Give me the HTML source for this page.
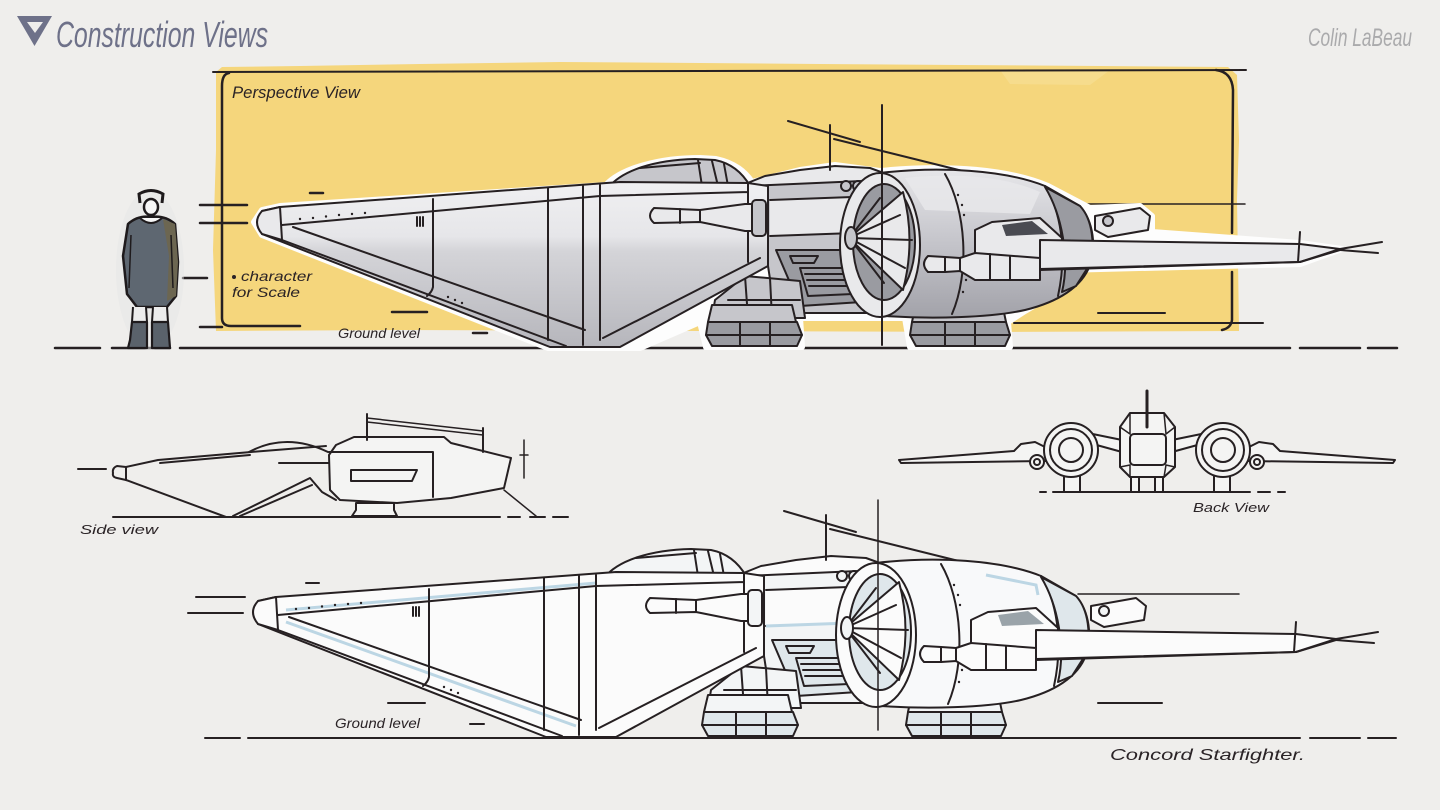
<!DOCTYPE html>
<html><head><meta charset="utf-8"><style>
html,body{margin:0;padding:0;background:#efeeec;}
svg{display:block;}
.s{stroke:#262022;stroke-width:2;stroke-linejoin:round;stroke-linecap:round;}
.n{fill:none;}
.t .f1{fill:#e9e9eb}.t .f2{fill:#c6c6cb}.t .f3{fill:#9a9ba1}.t .f4{fill:#4a4b52}.t .fw{fill:url(#gw)}.t .fp{fill:url(#gp)}
.b .f1{fill:#fbfbfb}.b .f2{fill:#f3f5f6}.b .f3{fill:#dfe7eb}.b .f4{fill:#9aa3a9}.b .fw{fill:#fbfbfb}.b .fp{fill:#f8f9fa}
.halo{fill:#fdfdfd;stroke:#fdfdfd;stroke-width:6;stroke-linejoin:round}
.b .halo{display:none}
.lbl{font-family:"Liberation Sans",sans-serif;font-style:italic;fill:#2a2326;}
</style></head><body>
<svg width="1440" height="810" viewBox="0 0 1440 810" xmlns="http://www.w3.org/2000/svg">
<defs>
<linearGradient id="gw" gradientUnits="userSpaceOnUse" x1="0" y1="182" x2="0" y2="347">
<stop offset="0" stop-color="#f0f0f2"/><stop offset="0.33" stop-color="#e6e6e9"/><stop offset="0.42" stop-color="#d4d4d8"/><stop offset="1" stop-color="#b6b6bc"/>
</linearGradient>
<linearGradient id="gp" gradientUnits="userSpaceOnUse" x1="0" y1="170" x2="0" y2="318">
<stop offset="0" stop-color="#e6e6e9"/><stop offset="0.5" stop-color="#c4c4ca"/><stop offset="1" stop-color="#a2a2a9"/>
</linearGradient>
</defs>
<rect width="1440" height="810" fill="#efeeec"/>

<!-- title -->
<polygon points="17,16 52,16 34.5,46" fill="#6e7189"/>
<polygon points="27,22 43,22 35,33" fill="#efeeec"/>
<text x="56" y="47" font-family="'Liberation Sans Narrow','Liberation Sans',sans-serif" font-style="italic" font-size="36" fill="#6e7189" textLength="212" lengthAdjust="spacingAndGlyphs">Construction Views</text>
<text x="1308" y="46" font-family="'Liberation Sans Narrow','Liberation Sans',sans-serif" font-style="italic" font-size="25" fill="#aaaaac" textLength="104" lengthAdjust="spacingAndGlyphs">Colin LaBeau</text>

<!-- yellow panel -->
<path d="M216,72 L222,67 L300,66 L420,64 L560,62 L700,63 L820,64 L960,65 L1100,66 L1228,67 L1237,75 L1239,140 L1237,200 L1238,260 L1239,331 L1000,332 L700,331 L400,330 L216,331 L213,250 L216,150 Z" fill="#f5d67c"/>
<path d="M1000,70 L1110,70 L1090,85 L1010,84 Z" fill="#f7de94" opacity="0.7"/>

<!-- frame -->
<g class="s n" stroke-width="2">
<path d="M213,72 L1246,70"/>
<path d="M229,73 Q222,74 222,86 L222,318 Q222,326 231,326 L300,326" stroke-width="2.5"/>
<path d="M1216,70 Q1232,72 1233,90 L1232,233 M1232,272 L1232,320 Q1231,328 1222,330" stroke-width="2.5"/>
<path d="M1077,204 L1245,204" stroke-width="1.5"/>
<path d="M1098,313 L1165,313" stroke-width="2"/>
<path d="M1014,323 L1263,323" stroke-width="2"/>
<path d="M200,205 L247,205 M200,223 L247,223 M183,278 L207,278 M200,327 L222,327" stroke-width="2.5"/>
<path d="M310,193 L323,193 M392,312 L427,312 M473,333 L487,333" stroke-width="2.5"/>
<path d="M55,348 L100,348 M112,348 L170,348 M180,348 L1290,348 M1300,348 L1360,348 M1368,348 L1397,348" stroke-width="2.5"/>
</g>

<!-- character -->
<g>
<ellipse cx="150" cy="270" rx="34" ry="80" fill="#e6e6e6" opacity="0.5"/>
<path d="M140,203 L139,194 Q151,187 163,194 L162,203" fill="none" stroke="#1e1a1c" stroke-width="3"/>
<path d="M128,224 Q138,215 151,217 Q165,215 175,224 L178,262 L176,296 L167,307 L137,307 L127,294 L123,256 Z" fill="#5e6771" stroke="#1e1a1c" stroke-width="2.5" stroke-linejoin="round"/>
<path d="M163,219 L175,224 L178,262 L176,296 L167,301 L169,256 Z" fill="#6c6651"/>
<path d="M133,307 L146,307 L146,322 L133,322 Z M153,307 L167,307 L167,322 L153,322 Z" fill="#ececec"/>
<path d="M132,322 L147,322 L147,348 L128,348 L130,340 Z M152,322 L168,322 L170,348 L152,348 Z" fill="#5a626b" stroke="#1e1a1c" stroke-width="2.2" stroke-linejoin="round"/>
<path d="M133,307 L132,322 M146,307 L147,322 M153,307 L152,322 M167,307 L168,322" stroke="#1e1a1c" stroke-width="2" fill="none"/>
<path d="M131,235 L129,288 M171,235 L173,288" stroke="#1e1a1c" stroke-width="1.5" fill="none"/>
<ellipse cx="151" cy="207" rx="7" ry="8" fill="#f6f6f6" stroke="#1e1a1c" stroke-width="2.5"/>
<path d="M140,218 Q151,228 162,218" fill="#f6f6f6" stroke="#1e1a1c" stroke-width="2"/>
</g>

<!-- labels top -->
<text class="lbl" x="232" y="98" font-size="17" textLength="128" lengthAdjust="spacingAndGlyphs">Perspective View</text>
<circle cx="234" cy="277" r="2" fill="#2a2326"/>
<text class="lbl" x="241" y="281" font-size="14" textLength="71" lengthAdjust="spacingAndGlyphs">character</text>
<text class="lbl" x="232" y="297" font-size="14" textLength="68" lengthAdjust="spacingAndGlyphs">for Scale</text>
<text class="lbl" x="338" y="338" font-size="14" textLength="82" lengthAdjust="spacingAndGlyphs">Ground level</text>

<!-- ===== TOP SHIP ===== -->
<g class="t">
<path class="halo" d="M254,222 L262,210 L280,206 L606,185 C622,168 660,158 700,158 L716,159 C735,163 745,172 752,182 L800,170 L835,165 L880,171 C950,164 1010,170 1048,186 L1090,208 L1140,206 L1152,216 L1152,232 L1300,243 L1342,249 L1300,264 L1062,270 L1050,296 L1025,311 L1008,322 L1010,347 L910,347 L905,318 L800,318 L802,347 L706,347 L700,322 L640,348 L548,348 L262,235 Z"/>
<path class="f2 s" d="M608,188 C622,170 655,160 695,159 L715,160 C730,163 742,172 750,186 Z"/>
<path class="s n" stroke-width="1.5" d="M640,168 L700,163 M698,160 L702,186 M712,161 L718,186 M724,164 L728,186"/>
<path class="f1 s" d="M745,184 L765,176 L800,170 L835,166 L870,168 L892,176 L885,205 L760,205 Z"/>
<path class="f2 s" d="M748,186 L885,180 L892,300 L870,313 L790,313 L772,292 L768,266 Z"/>
<path class="f1" d="M770,200 L880,196 L882,232 L770,236 Z"/>
<path class="s n" stroke-width="1.5" d="M770,236 L882,232 M770,200 L880,196"/>
<path class="f3 s" d="M776,250 L842,250 L862,302 L800,306 Z"/>
<path class="s n" stroke-width="1.5" d="M800,268 L845,268 L853,294 L808,296 Z M805,274 L847,274 M807,280 L849,280 M809,286 L851,286 M790,256 L818,256 L814,263 L793,263 Z"/>
<circle class="f2 s" cx="846" cy="186" r="5"/><circle class="f2 s" cx="858" cy="186" r="5"/><circle class="f2 s" cx="870" cy="187" r="5"/>
<path class="f2 s" d="M715,300 L745,276 L800,281 L805,318 L712,318 Z"/>
<path class="s n" stroke-width="1.2" d="M745,276 L748,318 M770,278 L772,318 M728,300 L800,300"/>
<path class="f2 s" d="M712,305 L792,305 L796,322 L708,322 Z"/>
<path class="f3 s" d="M708,322 L797,322 L802,335 L797,346 L712,346 L706,335 Z"/>
<path class="s n" stroke-width="1.2" d="M740,322 L740,346 M770,322 L770,346 M706,335 L802,335"/>
<path class="f2 s" d="M916,303 L1002,303 L1006,322 L912,322 Z"/>
<path class="f3 s" d="M912,322 L1006,322 L1010,335 L1005,346 L916,346 L910,335 Z"/>
<path class="s n" stroke-width="1.2" d="M945,322 L945,346 M975,322 L975,346 M910,335 L1010,335"/>
<!-- wedge -->
<path class="fw s" stroke-width="2.5" d="M257,222 L262,211 L280,207 L620,182 L748,183 L768,186 L768,266 L620,347 L550,347 L262,234 Z"/>
<path class="f1 s" d="M262,211 Q252,222 262,234 L282,240 L280,207 Z"/>
<path class="s n" stroke-width="2" d="M282,225 L600,196 L748,192 M293,227 L585,330 M282,240 L566,346 M583,186 L583,345 M600,185 L600,340 M748,184 L748,262 M760,258 L603,338"/>
<path class="s n" stroke-width="1.2" d="M433,199 L433,287 Q432,292 427,296 M548,188 L548,340 M417,217 L417,226 M420,217 L420,226 M423,217 L423,226"/>
<g fill="#262022"><circle cx="300" cy="219" r="1.2"/><circle cx="313" cy="218" r="1.2"/><circle cx="326" cy="216.5" r="1.2"/><circle cx="339" cy="215" r="1.2"/><circle cx="352" cy="214" r="1.2"/><circle cx="365" cy="213" r="1.2"/><circle cx="448" cy="297" r="1.2"/><circle cx="455" cy="300" r="1.2"/><circle cx="462" cy="303" r="1.2"/></g>
<!-- left gun -->
<path class="f1 s" d="M654,208 L700,210 L745,204 L752,204 L752,231 L745,231 L700,222 L654,223 Q646,216 654,208 Z"/>
<rect class="f2 s" x="752" y="200" width="14" height="36" rx="4"/>
<path class="s n" stroke-width="1.2" d="M680,209 L680,223 M700,210 L700,222"/>
<!-- antenna -->
<path class="s n" stroke-width="4" d="M830,125 L830,170"/>
<path class="s n" stroke-width="3" d="M834,139 L1003,181"/>
<path class="s n" stroke-width="0.8" d="M788,121 L860,142"/>
<!-- pod -->
<path class="fp s" stroke-width="2.5" d="M880,173 C940,166 1005,170 1045,186 L1080,206 C1094,222 1096,248 1090,265 C1082,287 1058,302 1025,310 C990,318 930,319 885,316 Z"/>
<path class="f1" d="M905,178 C960,172 1010,178 1040,192 L1030,214 L925,210 Z" opacity="0.8"/>
<path class="s n" stroke-width="1.5" d="M945,174 C966,210 970,272 952,314 M1045,186 C1060,210 1068,250 1058,296"/>
<path class="f3 s" d="M1045,187 L1080,206 C1093,220 1095,246 1090,264 L1076,286 L1062,292 C1070,258 1062,215 1045,187 Z"/>
<g fill="#262022"><circle cx="958" cy="195" r="1.2"/><circle cx="962" cy="205" r="1.2"/><circle cx="964" cy="215" r="1.2"/><circle cx="966" cy="280" r="1.2"/><circle cx="963" cy="292" r="1.2"/></g>
<!-- spike mount & box -->
<path class="f1 s" d="M1095,216 L1140,208 L1150,216 L1148,230 L1108,237 L1095,230 Z"/>
<circle class="f2 s" cx="1108" cy="221" r="5"/>
<path class="f1 s" d="M975,230 L992,222 L1040,218 L1062,238 L1062,268 L992,270 L975,262 Z"/>
<path class="f4" d="M1002,225 L1032,221 L1048,234 L1006,236 Z"/>
<path class="f1 s" d="M1040,240 L1300,244 L1340,249 L1300,262 L1040,270 Z"/>
<path class="s n" stroke-width="3.5" d="M1040,269 L1300,262 L1340,250"/>
<path class="s n" stroke-width="1" d="M1300,232 L1298,262 M1340,249 L1382,242 M1340,250 L1378,253"/>
<!-- ring -->
<ellipse class="f1 s" stroke-width="2.5" cx="880" cy="245" rx="40" ry="72"/>
<ellipse class="f3 s" stroke-width="2.5" cx="884" cy="242" rx="31" ry="58"/>
<path class="f1 s" d="M849,238 L903,192 Q916,240 903,290 Z"/>
<path class="s n" stroke-width="1.3" d="M851,236 L880,198 M851,238 L912,240 M851,240 L884,283 M851,237 L900,215 M851,239 L905,268"/>
<ellipse class="f2 s" cx="851" cy="238" rx="6" ry="11"/>
<!-- right gun -->
<path class="f1 s" d="M928,256 L945,257 L960,258 L975,253 L1040,258 L1040,280 L975,280 L960,271 L945,272 L928,272 Q920,264 928,256 Z"/>
<path class="s n" stroke-width="1.2" d="M945,257 L945,272 M960,258 L960,271 M990,254 L990,280 M1010,256 L1010,280"/>
</g>
<path class="s n" stroke-width="1.5" d="M882,105 L882,345"/>

<!-- ===== SIDE VIEW ===== -->
<g class="s n" stroke-width="2">
<path d="M78,469 L106,469"/>
<path d="M126,467 L158,460 L251,452 L326,446"/>
<path d="M160,463 L250,455"/>
<path d="M113,473 Q112,468 117,466 L126,467 L126,480 L117,478 Q112,477 113,473 Z"/>
<path d="M126,480 L226,517"/>
<path d="M249,452 Q286,432 328,452"/>
<path d="M279,463 L329,463"/>
<path d="M233,516 L310,478 L322,492 L336,500 M240,516 L312,485"/>
<path d="M336,445 L354,437 L444,437 L451,443 L511,458 L504,488 L451,498 L397,503 L340,500 L330,490 L329,455 Z" fill="#f4f4f3"/>
<path d="M329,452 L433,452 L433,497"/>
<path d="M351,470 L417,470 L412,481 L351,481 Z"/>
<path d="M356,503 L356,510 L352,516 L397,516 L394,510 L394,503 Z" fill="#f4f4f3"/>
<path d="M367,414 L367,440 M483,428 L483,452"/>
<path d="M367,418 L483,431 M367,422 L483,435" stroke-width="1.5"/>
<path d="M524,440 L524,478 M520,455 L528,455 M504,490 L536,516" stroke-width="1.5"/>
<path d="M113,517 L500,517 M508,517 L520,517 M530,517 L545,517 M553,517 L568,517"/>
</g>
<text class="lbl" x="80" y="534" font-size="13" textLength="78" lengthAdjust="spacingAndGlyphs">Side view</text>

<!-- ===== BACK VIEW ===== -->
<g class="s" stroke-width="2" fill="#f4f4f3">
<path d="M899,460 L1014,451 L1021,444 L1035,442 L1045,447 L1046,461 L901,463 Z"/>
<path d="M1395,460 L1280,451 L1273,444 L1259,442 L1249,447 L1248,461 L1393,463 Z"/>
<circle cx="1037" cy="462" r="7"/><circle cx="1037" cy="462" r="3"/>
<circle cx="1257" cy="462" r="7"/><circle cx="1257" cy="462" r="3"/>
<path d="M1064,476 L1064,492 L1080,492 L1080,476 M1214,476 L1214,492 L1230,492 L1230,476 M1131,477 L1131,492 L1139,492 L1139,477 M1155,477 L1155,492 L1163,492 L1163,477"/>
<path d="M1078,431 L1122,440 L1122,452 L1082,441 Z"/>
<path d="M1216,431 L1172,440 L1172,452 L1212,441 Z"/>
<circle cx="1071" cy="450" r="27"/><circle cx="1071" cy="450" r="21"/><circle cx="1071" cy="450" r="12"/>
<circle cx="1223" cy="450" r="27"/><circle cx="1223" cy="450" r="21"/><circle cx="1223" cy="450" r="12"/>
<path d="M1130,413 L1164,413 L1175,427 L1175,467 L1164,477 L1130,477 L1120,467 L1120,427 Z"/>
<rect x="1130" y="434" width="36" height="31" rx="4"/>
<path d="M1130,413 L1130,434 M1164,413 L1166,434 M1120,427 L1130,434 M1175,427 L1166,434 M1120,467 L1130,465 M1175,467 L1166,465 M1130,477 L1130,465 M1164,477 L1166,465" fill="none" stroke-width="1.5"/>
<path d="M1147,391 L1147,427" stroke-width="3" fill="none"/>
<path d="M1040,492 L1046,492 M1053,492 L1250,492 M1258,492 L1270,492 M1278,492 L1285,492" fill="none"/>
</g>
<text class="lbl" x="1193" y="512" font-size="13" textLength="76" lengthAdjust="spacingAndGlyphs">Back View</text>

<!-- ===== BOTTOM SHIP ===== -->
<g class="b" transform="translate(-4,390)">
<path class="f2 s" d="M608,188 C622,170 655,160 695,159 L715,160 C730,163 742,172 750,186 Z"/>
<path class="s n" stroke-width="1.5" d="M640,168 L700,163 M698,160 L702,186 M712,161 L718,186 M724,164 L728,186"/>
<path class="f1 s" d="M745,184 L765,176 L800,170 L835,166 L870,168 L892,176 L885,205 L760,205 Z"/>
<path class="f2 s" d="M748,186 L885,180 L892,300 L870,313 L790,313 L772,292 L768,266 Z"/>
<path class="f1" d="M770,200 L880,196 L882,232 L770,236 Z"/>
<path class="s n" stroke-width="1.5" d="M770,236 L882,232 M770,200 L880,196"/>
<path class="f3 s" d="M776,250 L842,250 L862,302 L800,306 Z"/>
<path class="s n" stroke-width="1.5" d="M800,268 L845,268 L853,294 L808,296 Z M805,274 L847,274 M807,280 L849,280 M809,286 L851,286 M790,256 L818,256 L814,263 L793,263 Z"/>
<circle class="f2 s" cx="846" cy="186" r="5"/><circle class="f2 s" cx="858" cy="186" r="5"/><circle class="f2 s" cx="870" cy="187" r="5"/>
<path class="f2 s" d="M715,300 L745,276 L800,281 L805,318 L712,318 Z"/>
<path class="s n" stroke-width="1.2" d="M745,276 L748,318 M770,278 L772,318 M728,300 L800,300"/>
<path class="f2 s" d="M712,305 L792,305 L796,322 L708,322 Z"/>
<path class="f3 s" d="M708,322 L797,322 L802,335 L797,346 L712,346 L706,335 Z"/>
<path class="s n" stroke-width="1.2" d="M740,322 L740,346 M770,322 L770,346 M706,335 L802,335"/>
<path class="f2 s" d="M916,303 L1002,303 L1006,322 L912,322 Z"/>
<path class="f3 s" d="M912,322 L1006,322 L1010,335 L1005,346 L916,346 L910,335 Z"/>
<path class="s n" stroke-width="1.2" d="M945,322 L945,346 M975,322 L975,346 M910,335 L1010,335"/>
<path class="fw s" stroke-width="2.5" d="M257,222 L262,211 L280,207 L620,182 L748,183 L768,186 L768,266 L620,347 L550,347 L262,234 Z"/>
<path class="f1 s" d="M262,211 Q252,222 262,234 L282,240 L280,207 Z"/>
<path class="n" stroke="#bcd6e4" stroke-width="3" d="M290,232 L580,336 M290,220 L600,193 M770,236 L882,232"/>
<path class="s n" stroke-width="2" d="M282,225 L600,196 L748,192 M293,227 L585,330 M282,240 L566,346 M583,186 L583,345 M600,185 L600,340 M748,184 L748,262 M760,258 L603,338"/>
<path class="s n" stroke-width="1.2" d="M433,199 L433,287 Q432,292 427,296 M548,188 L548,340 M417,217 L417,226 M420,217 L420,226 M423,217 L423,226"/>
<g fill="#262022"><circle cx="300" cy="219" r="1.2"/><circle cx="313" cy="218" r="1.2"/><circle cx="326" cy="216.5" r="1.2"/><circle cx="339" cy="215" r="1.2"/><circle cx="352" cy="214" r="1.2"/><circle cx="365" cy="213" r="1.2"/><circle cx="448" cy="297" r="1.2"/><circle cx="455" cy="300" r="1.2"/><circle cx="462" cy="303" r="1.2"/></g>
<path class="f1 s" d="M654,208 L700,210 L745,204 L752,204 L752,231 L745,231 L700,222 L654,223 Q646,216 654,208 Z"/>
<rect class="f2 s" x="752" y="200" width="14" height="36" rx="4"/>
<path class="s n" stroke-width="1.2" d="M680,209 L680,223 M700,210 L700,222"/>
<path class="s n" stroke-width="4" d="M830,125 L830,170"/>
<path class="s n" stroke-width="3" d="M834,139 L1003,181"/>
<path class="s n" stroke-width="0.8" d="M788,121 L860,142"/>
<path class="fp s" stroke-width="2.5" d="M880,173 C940,166 1005,170 1045,186 L1080,206 C1094,222 1096,248 1090,265 C1082,287 1058,302 1025,310 C990,318 930,319 885,316 Z"/>
<path class="n" stroke="#bcd6e4" stroke-width="3" d="M990,185 L1040,195 L1042,205"/>
<path class="s n" stroke-width="1.5" d="M945,174 C966,210 970,272 952,314 M1045,186 C1060,210 1068,250 1058,296"/>
<path class="f3 s" d="M1045,187 L1080,206 C1093,220 1095,246 1090,264 L1076,286 L1062,292 C1070,258 1062,215 1045,187 Z"/>
<g fill="#262022"><circle cx="958" cy="195" r="1.2"/><circle cx="962" cy="205" r="1.2"/><circle cx="964" cy="215" r="1.2"/><circle cx="966" cy="280" r="1.2"/><circle cx="963" cy="292" r="1.2"/></g>
<path class="f1 s" d="M1095,216 L1140,208 L1150,216 L1148,230 L1108,237 L1095,230 Z"/>
<circle class="f2 s" cx="1108" cy="221" r="5"/>
<path class="f1 s" d="M975,230 L992,222 L1040,218 L1062,238 L1062,268 L992,270 L975,262 Z"/>
<path class="f4" d="M1002,225 L1032,221 L1048,234 L1006,236 Z"/>
<path class="f1 s" d="M1040,240 L1300,244 L1340,249 L1300,262 L1040,270 Z"/>
<path class="s n" stroke-width="3.5" d="M1040,269 L1300,262 L1340,250"/>
<path class="s n" stroke-width="1" d="M1300,232 L1298,262 M1340,249 L1382,242 M1340,250 L1378,253"/>
<ellipse class="f1 s" stroke-width="2.5" cx="880" cy="245" rx="40" ry="72"/>
<ellipse class="f3 s" stroke-width="2.5" cx="884" cy="242" rx="31" ry="58"/>
<path class="f1 s" d="M849,238 L903,192 Q916,240 903,290 Z"/>
<path class="s n" stroke-width="1.3" d="M851,236 L880,198 M851,238 L912,240 M851,240 L884,283 M851,237 L900,215 M851,239 L905,268"/>
<ellipse class="f2 s" cx="851" cy="238" rx="6" ry="11"/>
<path class="f1 s" d="M928,256 L945,257 L960,258 L975,253 L1040,258 L1040,280 L975,280 L960,271 L945,272 L928,272 Q920,264 928,256 Z"/>
<path class="s n" stroke-width="1.2" d="M945,257 L945,272 M960,258 L960,271 M990,254 L990,280 M1010,256 L1010,280"/>
</g>

<!-- bottom construction lines -->
<g class="s n" stroke-width="2.5">
<path d="M196,597 L245,597 M188,613 L243,613 M306,583 L319,583 M388,703 L425,703 M470,724 L484,724" />
<path d="M1078,594 L1239,594" stroke-width="1.5"/>
<path d="M1098,703 L1162,703" stroke-width="2"/>
<path d="M878,500 L878,730" stroke-width="1.5"/>
<path d="M205,738 L240,738 M248,738 L1300,738 M1310,738 L1360,738 M1368,738 L1396,738"/>
</g>
<text class="lbl" x="335" y="728" font-size="14" textLength="85" lengthAdjust="spacingAndGlyphs">Ground level</text>
<text class="lbl" x="1110" y="760" font-size="16" font-style="normal" textLength="195" lengthAdjust="spacingAndGlyphs">Concord Starfighter.</text>
</svg>
</body></html>
